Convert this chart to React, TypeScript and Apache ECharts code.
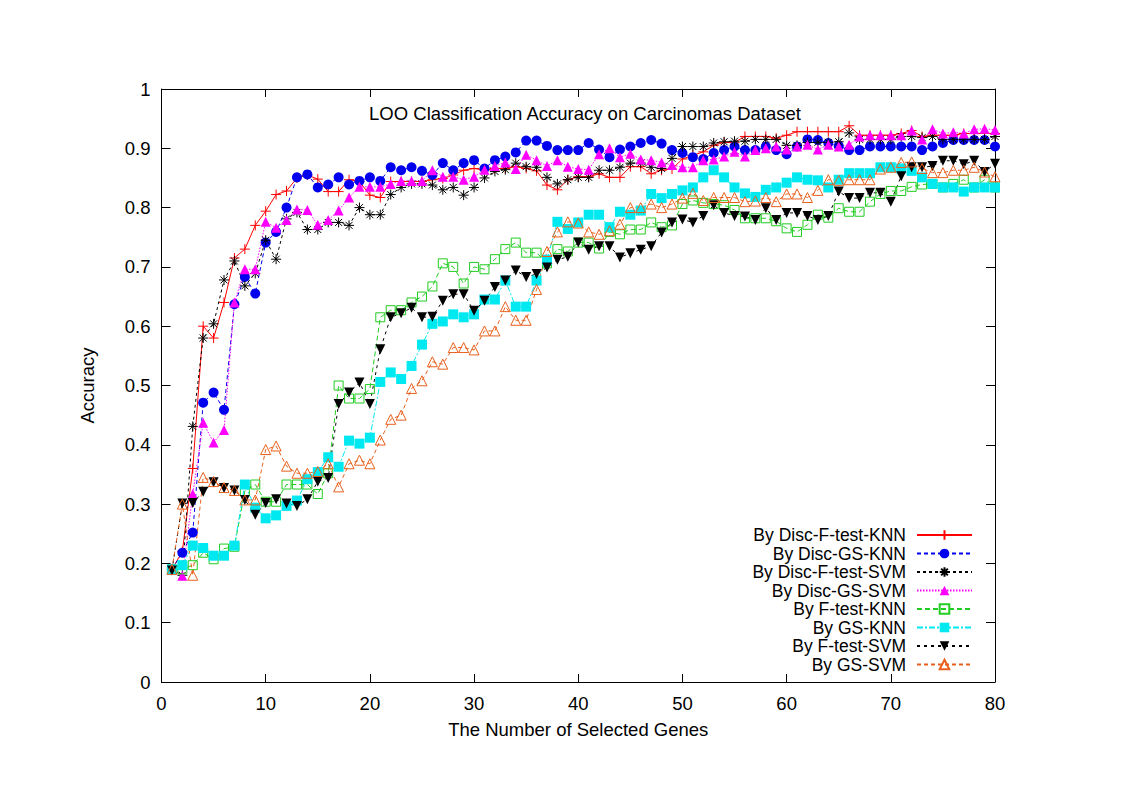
import React, { useEffect, useRef } from "react";
import * as echarts from "echarts";

const genes = [1,2,3,4,5,6,7,8,9,10,11,12,13,14,15,16,17,18,19,20,21,22,23,24,25,26,27,28,29,30,31,32,33,34,35,36,37,38,39,40,41,42,43,44,45,46,47,48,49,50,51,52,53,54,55,56,57,58,59,60,61,62,63,64,65,66,67,68,69,70,71,72,73,74,75,76,77,78,79,80];

const discFtestKNN = [0.19,0.22,0.36,0.60,0.58,0.64,0.715,0.73,0.77,0.794,
0.822,0.828,0.85,0.855,0.848,0.827,0.827,0.847,0.844,0.821,
0.817,0.844,0.844,0.844,0.844,0.847,0.849,0.855,0.863,0.866,
0.863,0.866,0.866,0.869,0.866,0.862,0.838,0.83,0.847,0.852,
0.852,0.857,0.851,0.851,0.869,0.869,0.857,0.863,0.865,0.882,
0.888,0.894,0.905,0.91,0.91,0.92,0.92,0.92,0.917,0.922,
0.928,0.928,0.928,0.928,0.928,0.938,0.922,0.922,0.922,0.922,
0.925,0.93,0.92,0.922,0.922,0.922,0.925,0.925,0.925,0.925];

const discGSKNN = [0.19,0.218,0.252,0.471,0.488,0.459,0.637,0.683,0.655,0.741,
0.759,0.80,0.851,0.856,0.834,0.839,0.851,0.839,0.845,0.851,
0.845,0.868,0.863,0.868,0.862,0.855,0.875,0.863,0.875,0.880,
0.866,0.880,0.886,0.893,0.913,0.913,0.904,0.897,0.897,0.897,
0.909,0.898,0.885,0.898,0.903,0.909,0.914,0.908,0.897,0.892,
0.885,0.882,0.892,0.897,0.903,0.897,0.897,0.903,0.897,0.890,
0.903,0.915,0.914,0.909,0.904,0.897,0.897,0.903,0.903,0.903,
0.903,0.903,0.897,0.903,0.909,0.914,0.914,0.914,0.914,0.903];

const discFtestSVM = [0.19,0.18,0.431,0.58,0.604,0.678,0.71,0.668,0.689,0.745,
0.713,0.781,0.792,0.763,0.763,0.775,0.775,0.770,0.80,0.788,
0.788,0.822,0.834,0.84,0.84,0.838,0.83,0.834,0.821,0.834,
0.850,0.861,0.864,0.875,0.869,0.868,0.851,0.840,0.847,0.851,
0.851,0.863,0.863,0.868,0.875,0.875,0.868,0.866,0.883,0.903,
0.903,0.903,0.909,0.911,0.912,0.912,0.915,0.915,0.915,0.905,
0.905,0.91,0.91,0.91,0.911,0.926,0.915,0.915,0.915,0.915,
0.92,0.92,0.918,0.92,0.915,0.915,0.915,0.915,0.915,0.92];

const discGSSVM = [0.19,0.179,0.317,0.437,0.404,0.425,0.64,0.696,0.696,0.776,
0.766,0.779,0.797,0.796,0.771,0.779,0.795,0.817,0.835,0.835,
0.835,0.840,0.845,0.845,0.845,0.863,0.852,0.852,0.847,0.852,
0.864,0.870,0.876,0.865,0.889,0.880,0.870,0.880,0.869,0.865,
0.864,0.89,0.9,0.885,0.891,0.881,0.880,0.876,0.872,0.868,
0.868,0.880,0.881,0.886,0.894,0.886,0.897,0.9,0.903,0.898,
0.903,0.906,0.898,0.906,0.903,0.906,0.92,0.922,0.922,0.922,
0.922,0.93,0.915,0.932,0.925,0.927,0.925,0.932,0.933,0.931];

const ftestKNN = [0.19,0.19,0.197,0.218,0.207,0.225,0.228,0.322,0.333,0.304,
0.304,0.333,0.333,0.333,0.317,0.352,0.5,0.478,0.478,0.494,
0.615,0.627,0.627,0.640,0.650,0.667,0.706,0.700,0.672,0.700,
0.696,0.713,0.730,0.741,0.724,0.724,0.706,0.730,0.726,0.741,
0.741,0.731,0.759,0.755,0.763,0.763,0.775,0.767,0.770,0.806,
0.812,0.808,0.806,0.804,0.796,0.782,0.782,0.782,0.777,0.765,
0.759,0.771,0.788,0.783,0.799,0.793,0.793,0.810,0.823,0.828,
0.828,0.835,0.839,0.840,0.834,0.840,0.847,0.834,0.847,0.834];

const gsKNN = [0.19,0.197,0.23,0.226,0.213,0.213,0.23,0.333,0.294,0.276,
0.281,0.297,0.306,0.342,0.354,0.379,0.363,0.407,0.402,0.412,
0.506,0.522,0.511,0.533,0.569,0.604,0.608,0.620,0.615,0.620,
0.645,0.645,0.677,0.633,0.633,0.677,0.712,0.776,0.764,0.775,
0.788,0.788,0.767,0.793,0.788,0.795,0.823,0.816,0.823,0.829,
0.834,0.851,0.863,0.851,0.834,0.824,0.818,0.830,0.834,0.842,
0.851,0.847,0.846,0.834,0.847,0.858,0.858,0.858,0.868,0.868,
0.866,0.862,0.851,0.840,0.834,0.834,0.827,0.834,0.834,0.834];

const ftestSVM = [0.188,0.301,0.302,0.321,0.337,0.327,0.323,0.307,0.282,0.302,
0.308,0.301,0.297,0.308,0.338,0.344,0.469,0.488,0.505,0.469,
0.561,0.615,0.622,0.631,0.615,0.616,0.643,0.654,0.654,0.626,
0.643,0.666,0.677,0.694,0.683,0.688,0.699,0.712,0.717,0.741,
0.729,0.735,0.735,0.716,0.723,0.729,0.735,0.758,0.775,0.780,
0.775,0.786,0.804,0.791,0.786,0.785,0.779,0.799,0.779,0.791,
0.791,0.786,0.779,0.786,0.827,0.816,0.816,0.825,0.825,0.810,
0.853,0.868,0.868,0.870,0.879,0.879,0.873,0.879,0.860,0.874];

const gsSVM = [0.19,0.30,0.18,0.345,0.338,0.328,0.323,0.307,0.307,0.392,
0.398,0.364,0.352,0.352,0.355,0.368,0.329,0.368,0.374,0.368,
0.408,0.443,0.450,0.495,0.508,0.540,0.536,0.564,0.564,0.560,
0.592,0.592,0.633,0.610,0.610,0.662,0.726,0.759,0.776,0.774,
0.759,0.755,0.761,0.772,0.800,0.800,0.806,0.800,0.806,0.816,
0.824,0.812,0.817,0.817,0.817,0.810,0.811,0.817,0.810,0.823,
0.823,0.817,0.829,0.847,0.846,0.847,0.847,0.847,0.865,0.868,
0.876,0.877,0.866,0.859,0.859,0.863,0.863,0.868,0.860,0.852];

const xTicks = { min: 0, max: 80, interval: 10 };
const yTicks = { min: 0, max: 1, interval: 0.1 };

const FONT = "Liberation Sans, Arial, Helvetica, sans-serif";
const FS = 18.5;
const LEGEND_FS = 17.5;

const PLUS = "path://M0,5L10,5M5,0L5,10";
const STAR = "path://M0,5L10,5M5,0L5,10M1.5,1.5L8.5,8.5M8.5,1.5L1.5,8.5";

type Def = {
  name: string;
  values: number[];
  color: string;
  symbol: string;
  open?: boolean;
  rotate?: number;
  dash: any;
  size: number;
};

const defs: Def[] = [
  { name: "By Disc-F-test-KNN", values: discFtestKNN, color: "#ff0000", symbol: PLUS, open: true, dash: "solid", size: 10 },
  { name: "By Disc-GS-KNN", values: discGSKNN, color: "#0000ee", symbol: "circle", dash: [4, 3], size: 10 },
  { name: "By Disc-F-test-SVM", values: discFtestSVM, color: "#000000", symbol: STAR, open: true, dash: [3, 3], size: 10 },
  { name: "By Disc-GS-SVM", values: discGSSVM, color: "#ff00ff", symbol: "triangle", dash: [1.5, 1.5], size: 10 },
  { name: "By F-test-KNN", values: ftestKNN, color: "#22cc22", symbol: "rect", open: true, dash: [5, 3], size: 9 },
  { name: "By GS-KNN", values: gsKNN, color: "#00e8f0", symbol: "rect", dash: [6, 2, 2, 2], size: 10 },
  { name: "By F-test-SVM", values: ftestSVM, color: "#000000", symbol: "triangle", rotate: 180, dash: [3, 4], size: 10 },
  { name: "By GS-SVM", values: gsSVM, color: "#e8601c", symbol: "triangle", open: true, dash: [4, 3], size: 10 },
];

export default function App() {
  const ref = useRef<HTMLDivElement>(null);
  useEffect(() => {
    if (!ref.current) return;
    const chart = echarts.init(ref.current, null, { renderer: "svg" });
    const series = defs.map((d) => ({
      type: "line",
      name: d.name,
      xAxisIndex: 0,
      yAxisIndex: 0,
      data: genes.map((g, i) => [g, d.values[i]]),
      symbol: d.symbol,
      symbolSize: d.size,
      symbolRotate: d.rotate || 0,
      showSymbol: true,
      showAllSymbol: true,
      lineStyle: { color: d.color, width: 1, type: d.dash },
      itemStyle: {
        color: d.open ? "transparent" : d.color,
        borderColor: d.color,
        borderWidth: d.open ? 1 : 0,
      },
      emphasis: { disabled: true },
      silent: true,
      animation: false,
    }));
    const legends = defs.map((d, i) => ({
      data: [d.name],
      right: 150,
      top: 535 + i * 18.5 - 9,
      orient: "horizontal",
      align: "right",
      itemWidth: 55,
      itemHeight: 12,
      padding: 0,
      selectedMode: false,
      textStyle: { fontSize: LEGEND_FS, fontFamily: FONT, color: "#000", padding: [0, 6, 0, 0], lineHeight: 18 },
    }));
    const axisCommonX = {
      type: "value",
      ...xTicks,
      axisLine: { show: true, onZero: false, lineStyle: { color: "#000", width: 1 } },
      axisTick: { show: true, inside: true, length: 8, lineStyle: { color: "#000" } },
      splitLine: { show: false },
    };
    const axisCommonY = {
      type: "value",
      ...yTicks,
      axisLine: { show: true, onZero: false, lineStyle: { color: "#000", width: 1 } },
      axisTick: { show: true, inside: true, length: 9, lineStyle: { color: "#000" } },
      splitLine: { show: false },
    };
    chart.setOption({
      animation: false,
      backgroundColor: "#ffffff",
      title: {
        text: "LOO Classification Accuracy on Carcinomas Dataset",
        left: 580,
        top: 99,
        textAlign: "center",
        textStyle: { fontSize: FS, fontWeight: "normal", fontFamily: FONT, color: "#000" },
      },
      grid: { left: 161.5, right: 128, top: 89, bottom: 111, containLabel: false },
      legend: legends,
      xAxis: [
        {
          ...axisCommonX,
          position: "bottom",
          name: "The Number of Selected Genes",
          nameLocation: "middle",
          nameGap: 38,
          nameTextStyle: { fontSize: FS, fontFamily: FONT, color: "#000" },
          axisLabel: { show: true, margin: 12, fontSize: FS, fontFamily: FONT, color: "#000" },
        },
        { ...axisCommonX, position: "top", axisLabel: { show: false } },
      ],
      yAxis: [
        {
          ...axisCommonY,
          position: "left",
          name: "Accuracy",
          nameLocation: "middle",
          nameGap: 65,
          nameTextStyle: { fontSize: FS, fontFamily: FONT, color: "#000" },
          axisLabel: {
            show: true,
            margin: 11,
            fontSize: FS,
            fontFamily: FONT,
            color: "#000",
            formatter: (v: number) => String(Math.round(v * 10) / 10),
          },
        },
        { ...axisCommonY, position: "right", axisLabel: { show: false } },
      ],
      series,
    });
    return () => chart.dispose();
  }, []);
  return (
    <div
      ref={ref}
      style={{ position: "fixed", left: 0, top: 0, width: 1123, height: 793, background: "#fff" }}
    />
  );
}
